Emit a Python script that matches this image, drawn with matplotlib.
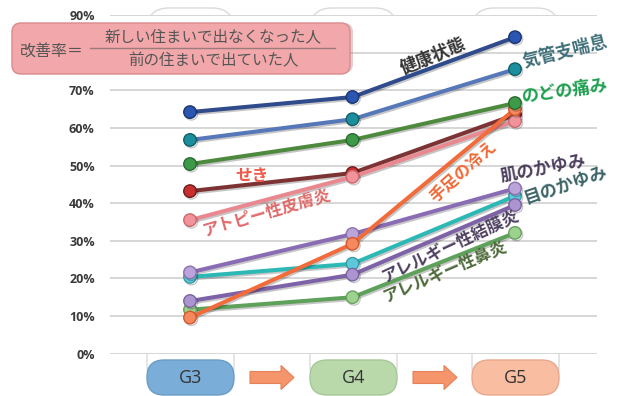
import matplotlib
matplotlib.use("Agg")
import matplotlib.pyplot as plt
import matplotlib.patheffects as pe
from matplotlib.patches import FancyBboxPatch, FancyArrow
from matplotlib.transforms import Affine2D

plt.rcParams['font.family'] = ['Noto Sans CJK JP', 'DejaVu Sans']

# stages on the x axis
stages = ["G3", "G4", "G5"]

# improvement rate (%) per symptom, G3 -> G4 -> G5
kenkou = [64.2, 68.2, 84.1]
kikanshi = [56.8, 62.3, 75.6]
nodo = [50.4, 56.8, 66.6]
seki = [43.2, 48.0, 63.5]
atopy = [35.5, 47.0, 61.8]
teashi = [9.6, 29.2, 65.0]
hada = [21.6, 31.8, 43.9]
me = [20.4, 23.9, 41.9]
ketsumaku = [14.0, 21.0, 39.5]
bien = [11.7, 15.0, 32.1]

names = ["せき", "アトピー性皮膚炎", "アレルギー性鼻炎", "目のかゆみ", "アレルギー性結膜炎",
         "肌のかゆみ", "手足の冷え", "のどの痛み", "気管支喘息", "健康状態"]
series = [seki, atopy, bien, me, ketsumaku, hada, teashi, nodo, kikanshi, kenkou]

# line colour, marker fill, marker edge
styles = {
    "健康状態": ("#2f4b8c", "#2a55b0", "#1c3670"),
    "気管支喘息": ("#5677b8", "#1b8f9c", "#145e68"),
    "のどの痛み": ("#4d8a3d", "#3d9a48", "#2a6a30"),
    "せき": ("#7d3333", "#c83030", "#6a1c1c"),
    "アトピー性皮膚炎": ("#ea8890", "#f2939c", "#c86a72"),
    "手足の冷え": ("#f26b3a", "#f6885e", "#d0582c"),
    "肌のかゆみ": ("#8a6cb4", "#bba4da", "#8a70ac"),
    "目のかゆみ": ("#2cb8b4", "#5cc8da", "#3a9aa8"),
    "アレルギー性結膜炎": ("#7d62a8", "#ab94cf", "#7a64a0"),
    "アレルギー性鼻炎": ("#5ea15a", "#9dd28e", "#6aa060"),
}

# label: (x, y, rotation, colour, size)
label_pos = {
    "健康状態": (1.50, 79.0, 22, "#333333", 12.5),
    "気管支喘息": (2.31, 80.2, 14, "#3e6e78", 12.5),
    "のどの痛み": (2.31, 69.8, 8, "#1ea050", 12.5),
    "せき": (0.38, 47.3, 0, "#f0584a", 12),
    "アトピー性皮膚炎": (0.47, 37.6, 16, "#e06a6a", 12),
    "手足の冷え": (1.68, 48.5, 42, "#f06a38", 12),
    "肌のかゆみ": (2.17, 49.3, 11, "#4b3e5c", 12.5),
    "目のかゆみ": (2.31, 45.0, 19, "#3d6468", 12.5),
    "アレルギー性結膜炎": (1.60, 28.6, 25, "#4e4060", 12),
    "アレルギー性鼻炎": (1.57, 21.7, 23, "#4d6a3a", 12),
}

W, H = 619, 396
fig = plt.figure(figsize=(W / 100, H / 100), dpi=100)
fig.patch.set_facecolor("white")
# image pixel coords (origin top-left) -> display
pix = Affine2D().scale(1 / 100, -1 / 100).translate(0, H / 100) + fig.dpi_scale_trans

ax = fig.add_axes([110 / W, (H - 353.7) / H, 487 / W, (353.7 - 15) / H])
ax.set_xlim(-0.4923, 2.5046)
ax.set_ylim(0, 90)
for s in ax.spines.values():
    s.set_visible(False)
ax.set_xticks([])
ticks = list(range(0, 91, 10))
# 80% is hidden behind the formula box in the original
ax.set_yticks(ticks)
ax.set_yticklabels(["" if v == 80 else f"{v}%" for v in ticks], fontsize=9, fontweight="bold",
                   color="#3a3a3a", family=["Open Sans", "DejaVu Sans"])
ax.tick_params(axis="y", length=0, pad=11)
ax.grid(axis="y", color="#cccccc", lw=1.1)
ax.set_axisbelow(True)

# rounded background columns
for x0 in [147, 310, 472]:
    fig.add_artist(FancyBboxPatch((x0, 8), 87, 380, boxstyle="round,pad=0,rounding_size=22",
                                  fc="none", ec="#dadada", lw=1, transform=pix, zorder=0))

xs = range(len(stages))
for name, vals in zip(names, series):
    lc, mf, me_ = styles[name]
    ax.plot(xs, vals, color=lc, lw=2.9, marker="o", ms=9, mfc=mf, mec=me_, mew=1,
            clip_on=False, zorder=3,
            path_effects=[pe.SimpleLineShadow(offset=(1, -1.2), alpha=0.22), pe.Normal()])
    tx, ty, rot, tc, fs = label_pos[name]
    ax.text(tx, ty, name, rotation=rot, color=tc, fontsize=fs, fontweight="bold",
            ha="center", va="center", rotation_mode="anchor", zorder=5)

# formula box
fig.add_artist(FancyBboxPatch((13, 25), 338, 50, boxstyle="round,pad=0,rounding_size=9",
                              fc="#b07070", ec="none", alpha=0.35,
                              transform=Affine2D().translate(2, -2) + pix, zorder=6))
fig.add_artist(FancyBboxPatch((12, 23), 338, 51, boxstyle="round,pad=0,rounding_size=9",
                              fc="#f2a8aa", ec="#d98a8c", lw=1, transform=pix, zorder=7))
fig.text(20, 52, "改善率＝", transform=pix, fontsize=11.5, color="#555555",
         ha="left", va="center", zorder=8)
fig.text(213, 37, "新しい住まいで出なくなった人", transform=pix, fontsize=11.2, color="#555555",
         ha="center", va="center", zorder=8)
fig.text(213, 61, "前の住まいで出ていた人", transform=pix, fontsize=11.2, color="#555555",
         ha="center", va="center", zorder=8)
fig.add_artist(plt.Line2D([90, 335], [47.5, 47.5], color="#9a7a7a", lw=1, transform=pix, zorder=8))

# stage boxes and arrows
box_colors = ["#7aaed8", "#b9d9aa", "#f9bda2"]
box_edges = ["#6a9cc6", "#a6c898", "#e8a88c"]
for x0, lab, fc, ec in zip([147, 310, 472], stages, box_colors, box_edges):
    fig.add_artist(FancyBboxPatch((x0, 360), 87, 35, boxstyle="round,pad=0,rounding_size=17",
                                  fc=fc, ec=ec, lw=1, transform=pix, zorder=6))
    fig.text(x0 + 43.5, 378, lab, transform=pix, fontsize=13, color="#333333",
             ha="center", va="center", zorder=7, family=["Open Sans", "DejaVu Sans"])
for x0 in [250, 413]:
    fig.add_artist(FancyArrow(x0, 377.5, 44, 0, width=12, head_width=24, head_length=13,
                              length_includes_head=True, fc="#f4956c", ec="#e68058", lw=0.8,
                              transform=pix, zorder=6))

fig.savefig("out.png", dpi=100)
